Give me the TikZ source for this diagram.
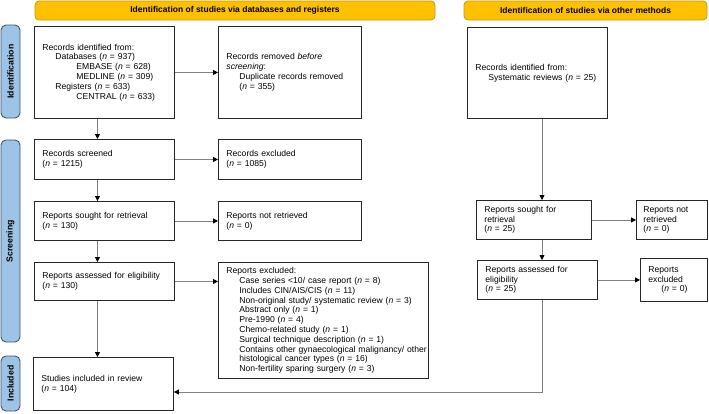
\documentclass[tikz,border=0pt]{standalone}
\usepackage{fontspec}
\setmainfont{Liberation Sans}
\usetikzlibrary{arrows.meta,calc}
\definecolor{hdr}{HTML}{FFC000}
\definecolor{hdrline}{HTML}{C59A14}
\definecolor{side}{HTML}{9DC3E6}
\definecolor{sideline}{HTML}{44546A}
\definecolor{conn}{HTML}{808080}
\newcommand{\ind}{\hspace*{13pt}}
\newcommand{\indd}{\hspace*{34pt}}
\newcommand{\nn}{\textit{n}}
\begin{document}
\begin{tikzpicture}[x=1pt,y=-1pt,
  box/.style={draw=black!85, line width=0.9pt, anchor=north west, inner xsep=8pt, inner ysep=2pt, align=left, font=\fontsize{8.6}{9.8}\selectfont},
  hdrbox/.style={draw=hdrline, fill=hdr, rounded corners=4pt, line width=0.8pt, font=\bfseries\fontsize{8.5}{10}\selectfont, inner sep=0pt},
  sidebox/.style={draw=sideline, fill=side, rounded corners=5pt, line width=0.9pt, inner sep=0pt, rotate=90, font=\bfseries\fontsize{8.7}{10}\selectfont},
  arr/.style={draw=conn, line width=0.8pt, -{Triangle[length=5pt,width=5pt,color=black]}}]
\useasboundingbox (0,0) rectangle (709,413);

% headers
\node[hdrbox, minimum width=400pt, minimum height=19pt] (h1) at (235,10.5) {Identification of studies via databases and registers};
\node[hdrbox, minimum width=243pt, minimum height=19pt] (h2) at (585.5,10.5) {Identification of studies via other methods};

% side bars
\node[sidebox, minimum width=93pt, minimum height=19pt] (s1) at (10.5,71.5) {Identification};
\node[sidebox, minimum width=202pt, minimum height=19pt] (s2) at (10.5,241) {Screening};
\node[sidebox, minimum width=55pt, minimum height=19pt] (s3) at (10.5,383.5) {Included};

% left column
\node[box, text width=124pt, minimum height=92pt] (id1) at (34,26) {Records identified from:\\
\ind Databases (\nn{} = 937)\\
\indd EMBASE (\nn{} = 628)\\
\indd MEDLINE (\nn{} = 309)\\
\ind Registers (\nn{} = 633)\\
\indd CENTRAL (\nn{} = 633)};
\node[box, text width=127pt, minimum height=92pt] (rem) at (218,26) {Records removed \textit{before}\\
\textit{screening}:\\
\ind Duplicate records removed\\
\ind (\nn{} = 355)};

\node[box, text width=124pt, minimum height=40pt] (scr) at (34,139) {Records screened\\(\nn{} = 1215)};
\node[box, text width=127pt, minimum height=40pt] (exc) at (218,139) {Records excluded\\(\nn{} = 1085)};

\node[box, text width=124pt, minimum height=39pt] (sought) at (34,201) {Reports sought for retrieval\\(\nn{} = 130)};
\node[box, text width=127pt, minimum height=39pt] (notret) at (218,201) {Reports not retrieved\\(\nn{} = 0)};

\node[box, text width=124pt, minimum height=38pt] (assess) at (34,262) {Reports assessed for eligibility\\(\nn{} = 130)};
\node[box, text width=194pt, minimum height=116pt] (repexc) at (218,262) {Reports excluded:\\
\ind Case series <10/ case report (\nn{} = 8)\\
\ind Includes CIN/AIS/CIS (\nn{} = 11)\\
\ind Non-original study/ systematic review (\nn{} = 3)\\
\ind Abstract only (\nn{} = 1)\\
\ind Pre-1990 (\nn{} = 4)\\
\ind Chemo-related study (\nn{} = 1)\\
\ind Surgical technique description (\nn{} = 1)\\
\ind \mbox{Contains other gynaecological malignancy/ other}\\
\ind histological cancer types (\nn{} = 16)\\
\ind Non-fertility sparing surgery (\nn{} = 3)};

\node[box, text width=124pt, minimum height=53pt] (incl) at (33,357) {Studies included in review\\(\nn{} = 104)};

% right column
\node[box, text width=124pt, minimum height=91pt] (oid) at (467,27) {Records identified from:\\
\ind Systematic reviews (\nn{} = 25)};
\node[box, text width=99pt, minimum height=39pt] (osought) at (476,200) {Reports sought for\\retrieval\\(\nn{} = 25)};
\node[box, inner xsep=7pt, text width=57pt, minimum height=39pt] (onotret) at (636,200) {Reports not\\retrieved\\(\nn{} = 0)};
\node[box, text width=104pt, minimum height=39pt] (oassess) at (477,260) {Reports assessed for\\eligibility\\(\nn{} = 25)};
\node[box, text width=51pt, minimum height=43pt] (oexc) at (640,258) {Reports\\excluded\\\ind(\nn{} = 0)};

% connectors
\draw[arr] ([xshift=-7pt]id1.south) -- ([xshift=-7pt]scr.north);
\draw[arr] (id1.east) -- (rem.west);
\draw[arr] (scr.east) -- (exc.west);
\draw[arr] ([xshift=-7pt]scr.south) -- ([xshift=-7pt]sought.north);
\draw[arr] (sought.east) -- (notret.west);
\draw[arr] ([xshift=-7pt]sought.south) -- ([xshift=-7pt]assess.north);
\draw[arr] (assess.east) -- (assess.east -| repexc.west);
\draw[arr] ([xshift=-7pt]assess.south) -- ([xshift=-7pt]assess.south |- incl.north);

\coordinate (rx) at (542,0);
\coordinate (jy) at (0,392);
\draw[arr] (oid.south -| rx) -- (osought.north -| rx);
\draw[arr] (osought.east) -- (onotret.west);
\draw[arr] (osought.south -| rx) -- (oassess.north -| rx);
\draw[arr] (oassess.east) -- (oexc.west);
\draw[arr] (oassess.south -| rx) -- (rx |- jy) -- (incl.east |- jy);
\end{tikzpicture}
\end{document}
